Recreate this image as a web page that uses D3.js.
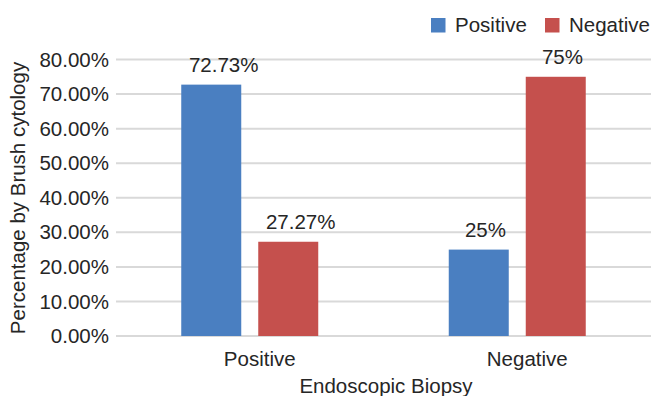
<!DOCTYPE html>
<html>
<head>
<meta charset="utf-8">
<script src="https://cdn.jsdelivr.net/npm/d3@7"></script>
<style>
  html, body { margin: 0; padding: 0; background: #fff; }
  svg { display: block; font-family: "Liberation Sans", Arial, Helvetica, sans-serif; }
</style>
</head>
<body>
<svg id="chart" width="651" height="396"></svg>
<script>
// Endoscopic biopsy result (x) vs. brush cytology result (series)
const categories = ["Positive", "Negative"];
const seriesNames = ["Positive", "Negative"];
const positiveValues = [72.73, 25];
const negativeValues = [27.27, 75];
const valueLabels = [["72.73%", "25%"], ["27.27%", "75%"]];
const yTicks = [0, 10, 20, 30, 40, 50, 60, 70, 80];
const colors = ["#4a7fc1", "#c5504d"];

const series = [positiveValues, negativeValues];

const svg = d3.select("#chart");
const W = 651;
const plotLeft = 116, plotTop = 59.5, plotBottom = 336;
const fontSize = 20.5;
const textColor = "#262626";

const x0 = d3.scaleBand().domain(categories).range([plotLeft, W]);
const groupPad = (x0.bandwidth() - 137) / 2;
const x1 = d3.scaleBand().domain(seriesNames).range([groupPad, x0.bandwidth() - groupPad]).paddingInner(17 / 77);
const y = d3.scaleLinear().domain([0, 80]).range([plotBottom, plotTop]);

// gridlines
svg.append("g")
  .selectAll("line")
  .data(yTicks)
  .join("line")
  .attr("x1", plotLeft).attr("x2", W)
  .attr("y1", d => y(d)).attr("y2", d => y(d))
  .attr("stroke", "#d9d9d9").attr("stroke-width", 2);

// y axis labels
const yAxis = d3.axisLeft(y).tickValues(yTicks).tickFormat(d => d.toFixed(2) + "%").tickSize(0).tickPadding(0);
const yg = svg.append("g").attr("transform", "translate(109,0)").call(yAxis);
yg.select(".domain").remove();
yg.selectAll("text").attr("font-size", fontSize).attr("fill", textColor).attr("font-family", "Liberation Sans, Arial, sans-serif");

// x axis labels
const xAxis = d3.axisBottom(x0).tickSize(0).tickPadding(0);
const xg = svg.append("g").attr("transform", `translate(10,${plotBottom})`).call(xAxis);
xg.select(".domain").remove();
xg.selectAll("text")
  .attr("y", 30).attr("dy", 0)
  .attr("font-size", fontSize).attr("fill", textColor).attr("font-family", "Liberation Sans, Arial, sans-serif");

// bars and value labels
const groups = svg.append("g")
  .selectAll("g")
  .data(categories)
  .join("g")
  .attr("transform", d => `translate(${x0(d)},0)`);

groups.each(function(cat, ci) {
  const g = d3.select(this);
  seriesNames.forEach((s, si) => {
    const v = series[si][ci];
    g.append("rect")
      .attr("x", x1(s))
      .attr("width", x1.bandwidth())
      .attr("y", y(v))
      .attr("height", y(0) - y(v))
      .attr("fill", colors[si]);
    const label = g.append("text")
      .attr("y", y(v) - 13)
      .attr("text-anchor", "middle")
      .attr("font-size", fontSize)
      .attr("fill", textColor)
      .text(valueLabels[si][ci]);
    // labels sit slightly right of the bar centre, more so for longer labels
    const len = label.node().getComputedTextLength();
    label.attr("x", x1(s) + x1.bandwidth() / 2 + 0.2 * len - 1.5);
  });
});

// axis titles
svg.append("text")
  .attr("x", 386)
  .attr("y", 393)
  .attr("text-anchor", "middle")
  .attr("font-size", fontSize)
  .attr("fill", textColor)
  .text("Endoscopic Biopsy");

svg.append("text")
  .attr("transform", "translate(25,198) rotate(-90)")
  .attr("text-anchor", "middle")
  .attr("font-size", fontSize)
  .attr("fill", textColor)
  .text("Percentage by Brush cytology");

// legend
const legendX = [431, 545];
const legend = svg.append("g");
seriesNames.forEach((s, i) => {
  legend.append("rect")
    .attr("x", legendX[i]).attr("y", 18)
    .attr("width", 14.5).attr("height", 14.5)
    .attr("fill", colors[i]);
  legend.append("text")
    .attr("x", legendX[i] + 24).attr("y", 31.5)
    .attr("font-size", fontSize)
    .attr("fill", textColor)
    .text(s);
});
</script>
</body>
</html>
